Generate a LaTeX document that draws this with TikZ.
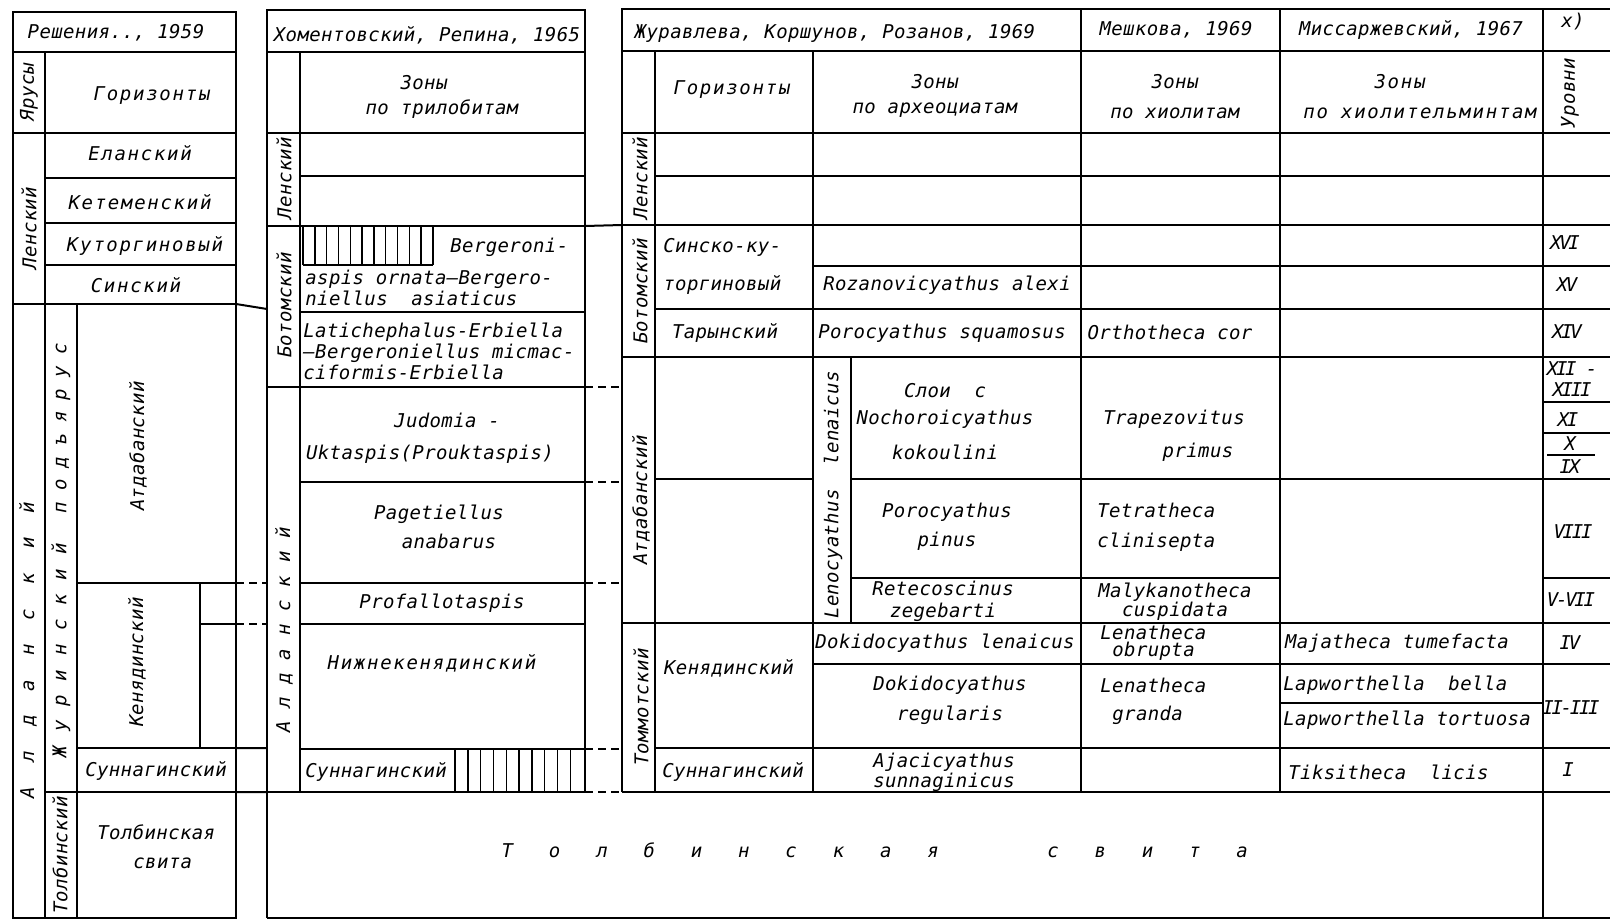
\documentclass[tikz,border=0pt]{standalone}
\usepackage{fontspec}
\setmainfont{DejaVu Sans Mono}[LetterSpace=2]
\newfontfamily\widefont{DejaVu Sans Mono}[LetterSpace=9]
\newfontfamily\narrowfont{DejaVu Sans Mono}[LetterSpace=-12]
\makeatletter
\newcommand{\spreadtext}[2]{\@tfor\sp@ch:=#2\do{\makebox[#1]{\sp@ch}}}
\makeatother
\tikzset{
  rule/.style={line width=1pt},
  hatch/.style={line width=0.7pt},
  corr/.style={line width=1pt,dash pattern=on 4pt off 2.5pt},
  lbl/.style={font=\itshape\fontsize{9.5}{14.5}\selectfont,inner sep=0pt,align=center},
  lblw/.style={lbl,font=\widefont\itshape\fontsize{9.5}{14.5}\selectfont},
  lbln/.style={lbl,font=\narrowfont\itshape\fontsize{9.5}{14.5}\selectfont},
  vlbl/.style={lbl,rotate=90},
}
\begin{document}
\begin{tikzpicture}[x=0.5pt,y=-0.5pt]
        \useasboundingbox[fill=white] (0,0) rectangle (1610,920) ;
        % Решения.., 1959
        \draw[rule] (13,12) rectangle (236,918) ;
        \draw[rule] (13,52) -- (236,52) (13,133) -- (236,133) (13,304) -- (236,304) ;
        \draw[rule] (45,52) -- (45,918) (77,304) -- (77,918) (200,583) -- (200,748) ;
        \draw[rule] (45,178) -- (236,178) (45,223) -- (236,223) (45,265) -- (236,265) ;
        \draw[rule] (77,583) -- (236,583) (200,624) -- (236,624) (77,748) -- (236,748)
        (45,792) -- (236,792) ;
        % Хоментовский, Репина, 1965
        \draw[rule] (267,918) -- (267,10) -- (585,10) -- (585,792) ;
        \draw[rule] (300,52) -- (300,792) ;
        \foreach \yy in {52,133,226,387,792}
          \draw[rule] (267,\yy) -- (585,\yy) ;
        \foreach \yy in {176,312,482,583,624,749}
          \draw[rule] (300,\yy) -- (585,\yy) ;
        \draw[hatch] (303,265) -- (433,265) ;
        \foreach \i in {0,...,11}
          \draw[hatch] (303+\i*11.8,226) -- (303+\i*11.8,265) ;
        \foreach \i in {0,...,9}
          \draw[hatch] (455+\i*12.8,749) -- (455+\i*12.8,792) ;
        % Журавлева ... Миссаржевский, уровни
        \draw[rule] (622,792) -- (622,9) -- (1610,9) ;
        \draw[rule] (622,51) -- (1610,51) (622,133) -- (1610,133) (622,225) -- (1610,225)
        (622,357) -- (1610,357) (622,623) -- (1610,623) (622,792) -- (1610,792) ;
        \draw[rule] (655,176) -- (1610,176) (655,309) -- (1610,309) (655,748) -- (1610,748)
        (813,266) -- (1610,266) (813,664) -- (1610,664) ;
        \draw[rule] (655,479) -- (813,479) (851,479) -- (1610,479) ;
        \draw[rule] (851,578) -- (1280,578) (1543,578) -- (1610,578) (1280,703) -- (1543,703) ;
        \draw[rule] (1543,402) -- (1610,402) (1543,433) -- (1610,433) (1547,455) -- (1595,455) ;
        \draw[rule] (655,51) -- (655,792) (813,51) -- (813,792) (851,357) -- (851,623)
        (1081,9) -- (1081,792) (1280,9) -- (1280,792) (1543,9) -- (1543,918) ;
        \draw[rule] (267,918) -- (1610,918) ;
        % correlation between the columns
        \draw[rule] (236,304) -- (267,309) (236,748) -- (267,748) (236,792) -- (267,792)
        (585,226) -- (622,225) ;
        \draw[corr] (236,583) -- (267,583) (236,624) -- (267,624) ;
        \foreach \yy in {387,482,583,749,792}
          \draw[corr] (585,\yy) -- (622,\yy) ;

        % texts, first column
        \node[lbl] (hdA) at (116,33) {Решения.., 1959} ;
        \node[vlbl] (yarA) at (29,92) {Ярусы} ;
        \node[lblw] (hzA) at (152,96) {Горизонты} ;
        \node[lblw] (elanA) at (140,153) {Еланский} ;
        \node[lblw] (ketemA) at (140,202) {Кетеменский} ;
        \node[lblw] (kutorA) at (145,246) {Куторгиновый} ;
        \node[lblw] (sinA) at (136,285) {Синский} ;
        \node[vlbl] (lenA) at (29,228) {Ленский} ;
        \node[vlbl] (aldA) at (28,650) {\spreadtext{17.8pt}{Алданский}} ;
        \node[vlbl] (zhurA) at (61,551)
          {\spreadtext{12.65pt}{Журинский}\hspace{8.8pt}\spreadtext{11.3pt}{подъярус}} ;
        \node[vlbl] (atdA) at (138,446) {Атдабанский} ;
        \node[vlbl] (kenA) at (137,662) {Кенядинский} ;
        \node[lbl] (sunA) at (156,771) {Суннагинский} ;
        \node[vlbl] (tolA) at (60,855) {Толбинский} ;
        \node[lbl,anchor=west,align=left] (tsvA) at (97,847) {Толбинская\\\hspace*{18pt}свита} ;
        % second column
        \node[lbl] (hdB) at (427,35) {Хоментовский, Репина, 1965} ;
        \node[lbl] (zonB) at (442,97) {Зоны\hspace*{18pt}\\[-2pt]по трилобитам} ;
        \node[vlbl] (lenB) at (284,178) {Ленский} ;
        \node[vlbl] (botB) at (284,305) {Ботомский} ;
        \node[vlbl] (aldB) at (284,630) {\spreadtext{12.15pt}{Алданский}} ;
        \node[lbl,anchor=west] (bergA) at (450,247) {Bergeroni-} ;
        \node[lbl,anchor=west,align=left] (bergB) at (305,288)
          {aspis ornata—Bergero-\\[-4pt]niellus\ \ asiaticus} ;
        \node[lbl,anchor=west,align=left] (latich) at (303,351)
          {Latichephalus-Erbiella\\[-4pt]—Bergeroniellus micmac-\\[-4pt]ciformis-Erbiella} ;
        \node[lbl] (judom) at (430,438) {\hspace*{17pt}Judomia -\\[1.5pt]Uktaspis(Prouktaspis)} ;
        \node[lbl] (paget) at (439,527) {Pagetiellus\\\hspace*{10pt}anabarus} ;
        \node[lbl] (profal) at (442,603) {Profallotaspis} ;
        \node[lblw] (nizhken) at (432,663) {Нижнекенядинский} ;
        \node[lbl,anchor=west] (sunB) at (305,772) {Суннагинский} ;
        \node[lbl,anchor=west] (tolbsv) at (483.35,850)
          {\spreadtext{23.65pt}{Толбинская}\hspace{36.3pt}\spreadtext{23.65pt}{свита}} ;
        % third column
        \node[lbl] (hdC) at (835,33) {Журавлева, Коршунов, Розанов, 1969} ;
        \node[lblw] (hzC) at (732,90) {Горизонты} ;
        \node[lbl] (zonC) at (935,96) {Зоны\\[-2pt]по археоциатам} ;
        \node[vlbl] (lenC) at (640,178) {Ленский} ;
        \node[vlbl] (botC) at (640,291) {Ботомский} ;
        \node[vlbl] (atdC) at (641,500) {Атдабанский} ;
        \node[vlbl] (tomC) at (641,707) {Томмотский} ;
        \node[lbl,anchor=west,align=left] (sinkut) at (663,266) {Синско-ку-\\[4.5pt]торгиновый} ;
        \node[lbl] (rozan) at (947,285) {Rozanovicyathus alexi} ;
        \node[lbl] (taryn) at (725,333) {Тарынский} ;
        \node[lbl] (porsq) at (942,333) {Porocyathus squamosus} ;
        \node[vlbl] (lenoc) at (833,495) {Lenocyathus\ \ lenaicus} ;
        \node[lbl] (sloi) at (945,422) {Слои\ \ с\\[-1pt]Nochoroicyathus\\[3pt]kokoulini} ;
        \node[lbl] (porpin) at (947,527) {Porocyathus\\pinus} ;
        \node[lbl] (retec) at (943,601) {Retecoscinus\\[-3.5pt]zegebarti} ;
        \node[lbl] (kenC) at (729,668) {Кенядинский} ;
        \node[lbl] (doklen) at (945,643) {Dokidocyathus lenaicus} ;
        \node[lbl] (dokreg) at (950,700) {Dokidocyathus\\[0.5pt]regularis} ;
        \node[lbl] (sunC) at (733,772) {Суннагинский} ;
        \node[lbl] (ajac) at (944,772) {Ajacicyathus\\[-4.5pt]sunnaginicus} ;
        % Мешкова
        \node[lbl] (hdD) at (1176,30) {Мешкова, 1969} ;
        \node[lbl] (zonD) at (1175,97) {Зоны\\[0.5pt]по хиолитам} ;
        \node[lbl] (orth) at (1170,332) {Orthotheca cor} ;
        \node[lbl] (trap) at (1174,436) {Trapezovitus\\[2pt]\hspace*{24pt}primus} ;
        \node[lbl,anchor=west,align=left] (tetra) at (1097,527) {Tetratheca\\[0.5pt]clinisepta} ;
        \node[lbl] (malyk) at (1175,602) {Malykanotheca\\[-5pt]cuspidata} ;
        \node[lbl,anchor=west,align=left] (lenob) at (1100,643) {Lenatheca\\[-6pt]\hspace*{6pt}obrupta} ;
        \node[lbl,anchor=west,align=left] (lengr) at (1100,701) {Lenatheca\\[-0.5pt]\hspace*{6pt}granda} ;
        % Миссаржевский
        \node[lbl] (hdE) at (1411,30) {Миссаржевский, 1967} ;
        \node[lblw] (zonE) at (1420,97) {Зоны\hspace*{20pt}\\[0.5pt]по хиолительминтам} ;
        \node[lbl] (majat) at (1397,643) {Majatheca tumefacta} ;
        \node[lbl,anchor=west] (lapbel) at (1283,685) {Lapworthella\ \ bella} ;
        \node[lbl,anchor=west] (laptor) at (1283,720) {Lapworthella tortuosa} ;
        \node[lbl,anchor=west] (tiksi) at (1288,772) {Tiksitheca\ \ licis} ;
        % уровни
        \node[lbl] (xnote) at (1573,22) {x)} ;
        \node[vlbl] (urov) at (1570,93) {Уровни} ;
        \node[lbln] (u16) at (1565,243) {XVI} ;
        \node[lbln] (u15) at (1567,285) {XV} ;
        \node[lbln] (u14) at (1567,332) {XIV} ;
        \node[lbln] (u1213) at (1572,379) {XII -\\[-4pt]XIII} ;
        \node[lbln] (u11) at (1568,420) {XI} ;
        \node[lbln] (u10) at (1570,444) {X} ;
        \node[lbln] (u9) at (1570,467) {IX} ;
        \node[lbln] (u8) at (1573,532) {VIII} ;
        \node[lbln] (u57) at (1571,600) {V-VII} ;
        \node[lbln] (u4) at (1570,643) {IV} ;
        \node[lbln] (u23) at (1571,708) {II-III} ;
        \node[lbln] (u1) at (1568,770) {I} ;
      \end{tikzpicture}
\end{document}
